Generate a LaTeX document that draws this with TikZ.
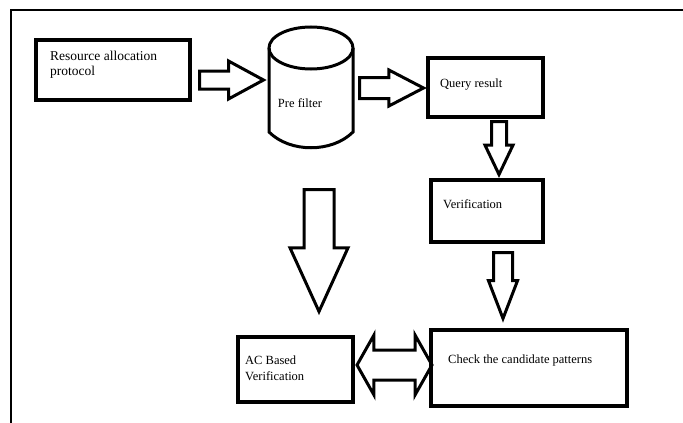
\documentclass[tikz,border=0pt]{standalone}
\usepackage{fontspec}
\setmainfont{Liberation Serif}
\usetikzlibrary{shapes.arrows}

\tikzset{
    box/.style={rectangle, draw, line width=3.6pt, outer sep=0pt, inner sep=0pt},
    tag/.style={anchor=north west, inner sep=0pt, align=left},
    fatarrow/.style={single arrow, draw, line width=3pt,
      single arrow head indent=0pt, anchor=tail},
}

\begin{document}
\begin{tikzpicture}[x=1pt, y=-1pt, font=\fontsize{12.5}{16}\selectfont]

    \useasboundingbox (0,0) rectangle (683,423);

    % frame
    \draw[line width=2pt] (683,10) -- (11,10) -- (11,423);

    \node[box,
    minimum width=154pt,
    minimum height=60pt,
    label={[tag, font=\fontsize{13.5}{15}\selectfont, xshift=14pt, yshift=-10.5pt]north west:Resource allocation\\protocol}] (res) at (113,70) {};

    % cylinder
    \node[inner sep=0pt] (pre) at (300,103) {Pre filter};
    \draw[line width=3pt] (311,48) ellipse [x radius=42pt, y radius=21pt];
    \draw[line width=3pt] (269,48) -- (269,132)
      .. controls (290,153) and (332,153) .. (353,132) -- (353,48);

    \node[box,
    minimum width=115pt,
    minimum height=59pt,
    label={[tag, xshift=12pt, yshift=-20.7pt]north west:Query result}] (query) at (485.5,87.5) {};

    \node[box,
    minimum width=112pt,
    minimum height=62pt,
    label={[tag, xshift=12pt, yshift=-19.7pt]north west:Verification}] (verif) at (487,211) {};

    \node[box,
    minimum width=115pt,
    minimum height=65pt,
    label={[tag, xshift=7pt, yshift=-18.7pt]north west:AC Based\\Verification}] (acv) at (295.5,369.5) {};

    \node[box,
    minimum width=196pt,
    minimum height=76pt,
    label={[tag, xshift=17pt, yshift=-24.7pt]north west:Check the candidate patterns}] (check) at (529,368) {};

    % block arrows
    \node[fatarrow,
    minimum height=64pt, inner sep=7.5pt,
    single arrow head extend=10pt,
    single arrow tip angle=57] (a1) at (198,80) {};

    \node[fatarrow,
    minimum height=64pt, inner sep=9pt,
    single arrow head extend=7.5pt,
    single arrow tip angle=55] (a2) at (358,88) {};

    \node[fatarrow, shape border rotate=270,
    minimum height=53pt, inner sep=6pt,
    single arrow head extend=6.5pt,
    single arrow tip angle=51] (a3) at (499,120) {};

    \node[fatarrow, shape border rotate=270,
    minimum height=122pt, inner sep=13.5pt,
    single arrow head extend=14pt,
    single arrow tip angle=49] (a4) at (319,188) {};

    \node[fatarrow, shape border rotate=270,
    minimum height=66pt, inner sep=8pt,
    single arrow head extend=5pt,
    single arrow tip angle=42] (a5) at (503,251) {};

    \node[double arrow, draw, line width=3pt, inner sep=13.5pt,
    double arrow head indent=0pt,
    minimum height=75pt,
    double arrow head extend=15pt,
    double arrow tip angle=121] (a6) at (394.5,365) {};

\end{tikzpicture}
\end{document}
